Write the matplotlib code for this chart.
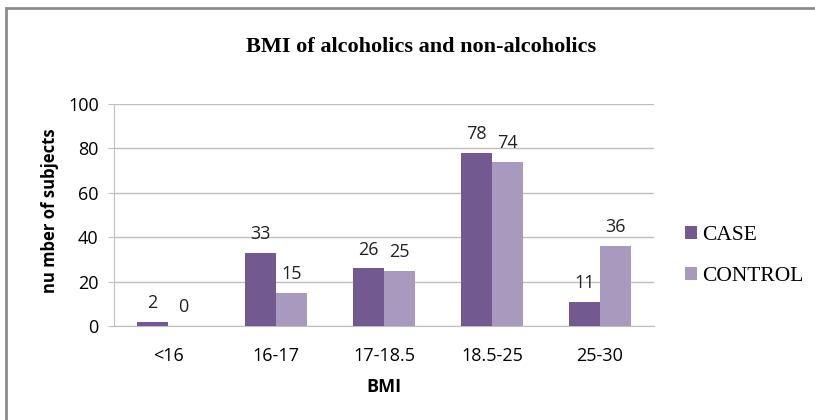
import matplotlib
matplotlib.use("Agg")
import matplotlib.pyplot as plt
import numpy as np
from matplotlib.patches import Rectangle

categories = ["<16", "16-17", "17-18.5", "18.5-25", "25-30"]
case_vals = [2, 33, 26, 78, 11]
control_vals = [0, 15, 25, 74, 36]
series_names = ["CASE", "CONTROL"]
yticks = [0, 20, 40, 60, 80, 100]

case_color = "#72598f"
control_color = "#a899bf"
grid_color = "#bfbfbf"
W, H = 815, 420

fig = plt.figure(figsize=(W / 100, H / 100), dpi=100)
fig.patches.append(Rectangle((6 / W, -0.05), 1.0, 1.05 - 8 / H,
                             transform=fig.transFigure, fill=False,
                             edgecolor="#8c8c8c", linewidth=2))

ax = fig.add_axes([114 / W, 1 - 326 / H, 540 / W, 222 / H])
x = np.arange(len(categories))
w = 0.285
b1 = ax.bar(x - w / 2, case_vals, w, color=case_color, zorder=3)
b2 = ax.bar(x + w / 2, control_vals, w, color=control_color, zorder=3)

sans = "Open Sans"
for bars, vals in ((b1, case_vals), (b2, control_vals)):
    for rect, v in zip(bars, vals):
        ax.annotate(str(v), (rect.get_x() + rect.get_width() / 2, v),
                    xytext=(0, 7), textcoords="offset points",
                    ha="center", va="bottom", family=sans, fontsize=13,
                    color="#222222")

ax.set_xlim(-0.5, len(categories) - 0.5)
ax.set_ylim(0, 100)
ax.set_yticks(yticks)
ax.set_yticklabels([str(t) for t in yticks], family=sans, fontsize=13)
ax.set_xticks(x)
ax.set_xticklabels(categories, family=sans, fontsize=13)
ax.tick_params(axis="x", length=0, pad=15)
ax.tick_params(axis="y", length=4, color=grid_color, pad=7)
ax.yaxis.grid(True, color=grid_color, linewidth=1, zorder=0)
for s in ("top", "right"):
    ax.spines[s].set_visible(False)
for s in ("left", "bottom"):
    ax.spines[s].set_color(grid_color)

fig.text(50 / W, 1 - 211 / H, "nu mber of subjects", rotation=90,
         ha="center", va="center", family=sans, fontweight="bold",
         fontsize=12)
fig.text(384 / W, 1 - 387 / H, "BMI", ha="center", va="center",
         family=sans, fontweight="bold", fontsize=13)

fig.text(421 / W, 1 - 52 / H, "BMI of alcoholics and non-alcoholics",
         ha="center", va="baseline", family="Liberation Serif",
         fontweight="bold", fontsize=16)

leg = ax.legend([b1, b2], series_names, loc="center left",
                bbox_to_anchor=(1.022, 0.315), frameon=False,
                prop=dict(family="Liberation Serif", size=15.5),
                handlelength=0.55, handleheight=0.55, handletextpad=0.25,
                labelspacing=1.0)

fig.savefig("out.png", dpi=100)
